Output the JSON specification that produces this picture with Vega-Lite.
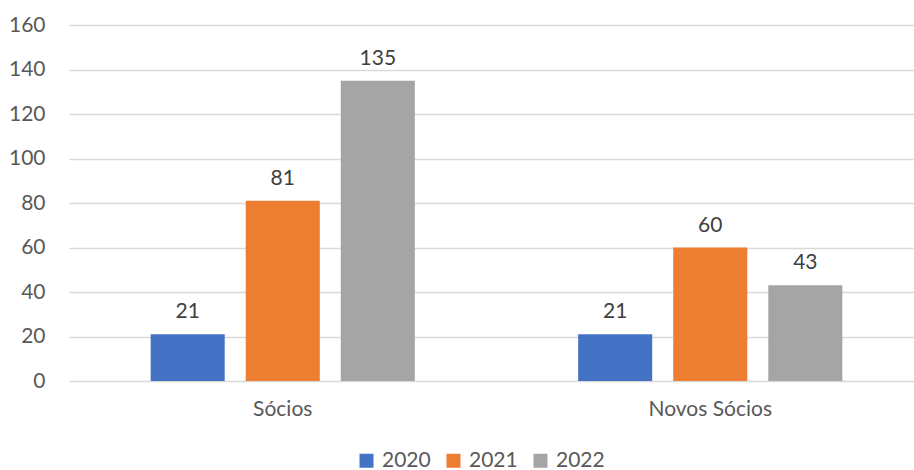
{
  "$schema": "https://vega.github.io/schema/vega-lite/v6.json",
  "width": 855,
  "height": 356,
  "autosize": "none",
  "padding": {"left": 69, "top": 25, "right": 0, "bottom": 89},
  "config": {"view": {"stroke": null}, "font": "Lato"},
  "data": {
    "values": [
      {"categoria": "Sócios", "ano": "2020", "valor": 21},
      {"categoria": "Sócios", "ano": "2021", "valor": 81},
      {"categoria": "Sócios", "ano": "2022", "valor": 135},
      {"categoria": "Novos Sócios", "ano": "2020", "valor": 21},
      {"categoria": "Novos Sócios", "ano": "2021", "valor": 60},
      {"categoria": "Novos Sócios", "ano": "2022", "valor": 43}
    ]
  },
  "encoding": {
    "x": {
      "field": "categoria", "type": "nominal", "sort": ["Sócios", "Novos Sócios"],
      "scale": {"paddingInner": 0.382, "paddingOuter": 0.191},
      "axis": {"title": null, "labelAngle": 0, "ticks": false, "domain": false, "labelPadding": 17, "labelFontSize": 21, "labelColor": "#595959", "grid": false}
    },
    "xOffset": {"field": "ano", "type": "nominal", "scale": {"paddingInner": 0.221, "paddingOuter": 0}},
    "y": {
      "field": "valor", "type": "quantitative",
      "scale": {"domain": [0, 160], "nice": false},
      "axis": {"title": null, "values": [0, 20, 40, 60, 80, 100, 120, 140, 160], "ticks": false, "domain": false, "gridColor": "#D9D9D9", "gridWidth": 1.5, "labelPadding": 24, "labelFontSize": 21, "labelColor": "#595959"}
    }
  },
  "layer": [
    {
      "mark": {"type": "bar"},
      "encoding": {
        "color": {
          "field": "ano", "type": "nominal",
          "scale": {"domain": ["2020", "2021", "2022"], "range": ["#4472C4", "#ED7D31", "#A5A5A5"]},
          "legend": {"title": null, "orient": "none", "legendX": 287, "legendY": 425, "direction": "horizontal", "symbolType": "square", "symbolSize": 196, "symbolStrokeWidth": 0, "labelFontSize": 21, "labelColor": "#595959", "labelOffset": 5, "columnPadding": 12}
        }
      }
    },
    {
      "mark": {"type": "text", "baseline": "bottom", "dy": -12, "fontSize": 21, "color": "#404040"},
      "encoding": {"text": {"field": "valor", "type": "quantitative"}}
    }
  ]
}
